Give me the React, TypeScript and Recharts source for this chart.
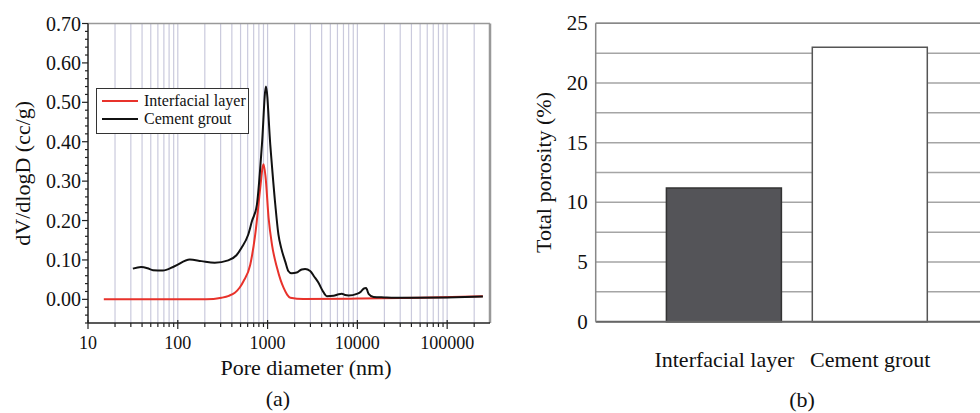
import React from 'react'
import { LineChart, Line, BarChart, Bar, Cell, XAxis, YAxis, CartesianGrid, ReferenceLine, Legend, Label } from 'recharts'

const FONT = 'Liberation Serif, serif'
const txt = { fontFamily: FONT, fill: '#111' }

// (a) pore size distribution, pore diameter in nm vs dV/dlogD in cc/g
const interfacialDiam = [15, 50, 100, 200, 250, 306, 370, 432, 490, 539, 641, 728, 828, 880, 902, 950, 1026, 1119, 1274, 1400, 1510, 1650, 1794, 2500, 10000, 50000, 250000]
const interfacialVal = [0, 0, 0, 0.0005, 0.001, 0.004, 0.009, 0.017, 0.03, 0.046, 0.088, 0.164, 0.282, 0.335, 0.343, 0.31, 0.207, 0.139, 0.08, 0.048, 0.029, 0.012, 0.004, 0.001, 0.002, 0.004, 0.008]

const cementDiam = [31.6, 39, 46, 53, 68, 92, 136, 183, 258, 364, 450, 513, 608, 669, 760, 865, 959, 1072, 1219, 1320, 1420, 1577, 1700, 1855, 2110, 2400, 2618, 2980, 3300, 3690, 4100, 4575, 5425, 6200, 6720, 7300, 7980, 9880, 11000, 11740, 12500, 13340, 15150, 20000, 31400, 100000, 250000]
const cementVal = [0.078, 0.082, 0.079, 0.074, 0.073, 0.084, 0.101, 0.097, 0.093, 0.099, 0.112, 0.131, 0.164, 0.198, 0.24, 0.392, 0.54, 0.392, 0.24, 0.165, 0.13, 0.095, 0.072, 0.066, 0.068, 0.076, 0.077, 0.072, 0.058, 0.042, 0.022, 0.008, 0.009, 0.013, 0.014, 0.011, 0.01, 0.014, 0.02, 0.027, 0.029, 0.014, 0.006, 0.005, 0.004, 0.005, 0.007]

const majorX = [10, 100, 1000, 10000, 100000]
const xTicks = [10, 20, 30, 40, 50, 60, 70, 80, 90, 100, 200, 300, 400, 500, 600, 700, 800, 900, 1000, 2000, 3000, 4000, 5000, 6000, 7000, 8000, 9000, 10000, 20000, 30000, 40000, 50000, 60000, 70000, 80000, 90000, 100000, 200000]
const gridX = xTicks.slice(1)
const yTicksA = [-0.06, -0.04, -0.02, 0, 0.02, 0.04, 0.06, 0.08, 0.1, 0.12, 0.14, 0.16, 0.18, 0.2, 0.22, 0.24, 0.26, 0.28, 0.3, 0.32, 0.34, 0.36, 0.38, 0.4, 0.42, 0.44, 0.46, 0.48, 0.5, 0.52, 0.54, 0.56, 0.58, 0.6, 0.62, 0.64, 0.66, 0.68, 0.7]

// (b) total porosity
const categories = ['Interfacial layer', 'Cement grout']
const porosity = [11.2, 23.0]
const yTicksB = [0, 2.5, 5, 7.5, 10, 12.5, 15, 17.5, 20, 22.5, 25]

const series = [
  { name: 'Interfacial layer', color: '#e8322b', data: interfacialDiam.map((d, i) => ({ d, v: interfacialVal[i] })) },
  { name: 'Cement grout', color: '#111111', data: cementDiam.map((d, i) => ({ d, v: cementVal[i] })) },
]
const barData = categories.map((name, i) => ({ name, value: porosity[i] }))
const barFills = ['#545458', '#ffffff']
const barStrokes = ['#333333', '#555555']

const XTickA = (props: any) => {
  const { x, y, payload } = props
  const major = majorX.includes(payload.value)
  return (
    <g>
      <line x1={x} x2={x} y1={major ? y - 3 : y} y2={y + (major ? 6 : 4)} stroke="#222" strokeWidth={1.2} />
      {major && (
        <text x={x} y={y + 20} textAnchor="middle" dominantBaseline="central" fontSize={18} style={txt}>
          {payload.value}
        </text>
      )}
    </g>
  )
}

const YTickA = (props: any) => {
  const { x, y, payload } = props
  const v = payload.value
  const major = v >= 0 && Math.abs(v * 10 - Math.round(v * 10)) < 1e-6
  return (
    <g>
      <line x1={x} x2={x - (major ? 6 : 3)} y1={y} y2={y} stroke="#222" strokeWidth={1.2} />
      {major && (
        <text x={x - 7} y={y} textAnchor="end" dominantBaseline="central" fontSize={20} style={txt}>
          {v.toFixed(2)}
        </text>
      )}
    </g>
  )
}

const YTickB = (props: any) => {
  const { x, y, payload } = props
  const v = payload.value
  if (v % 5 !== 0) return <g />
  return (
    <text x={x - 8} y={y} textAnchor="end" dominantBaseline="central" fontSize={21} style={txt}>
      {v}
    </text>
  )
}

const CatTick = (props: any) => {
  const { x, y, payload } = props
  return (
    <text x={x} y={y + 38} textAnchor="middle" dominantBaseline="central" fontSize={22} style={txt}>
      {payload.value}
    </text>
  )
}

const LegendBox = () => (
  <div style={{ border: '1.5px solid #333', background: '#fff', width: 153, height: 46, boxSizing: 'border-box', fontFamily: FONT, fontSize: 16, color: '#111', padding: '3px 0 0 5px' }}>
    {series.map((s) => (
      <div key={s.name} style={{ display: 'flex', alignItems: 'center', height: 18 }}>
        <span style={{ display: 'inline-block', width: 36, height: 2, background: s.color, marginRight: 6 }} />
        <span>{s.name}</span>
      </div>
    ))}
  </div>
)

const rotatedTitle = (text: string, x: number) => (props: any) => {
  const vb = props.viewBox
  const cy = vb.y + vb.height / 2
  return (
    <text x={x} y={cy} transform={`rotate(-90 ${x} ${cy})`} textAnchor="middle" dominantBaseline="central" fontSize={22} style={txt}>
      {text}
    </text>
  )
}

const App = () => (
  <div style={{ position: 'absolute', left: 0, top: 0, width: 980, height: 413, overflow: 'hidden', background: '#fff', fontFamily: FONT }}>
    <div style={{ position: 'absolute', left: 0, top: 0 }}>
      <LineChart width={500} height={413} margin={{ top: 23.5, right: 10, left: 0, bottom: 40 }} style={{ fontFamily: FONT }}>
        {gridX.map((g) => (
          <ReferenceLine key={g} x={g} stroke="#cacadd" strokeWidth={1.2} />
        ))}
        <ReferenceLine y={0.7} stroke="#999" strokeWidth={1.5} />
        <ReferenceLine x={300000} stroke="#999" strokeWidth={2.5} />
        <XAxis dataKey="d" type="number" scale="log" domain={[10, 300000]} allowDataOverflow ticks={xTicks} interval={0} height={50}
          axisLine={{ stroke: '#222', strokeWidth: 1.5 }} tickLine={false} tickSize={0} tickMargin={0} tick={<XTickA />}>
          <Label content={(p: any) => (
            <text x={p.viewBox.x + p.viewBox.width / 2 + 17} y={p.viewBox.y + 44} textAnchor="middle" dominantBaseline="central" fontSize={22} style={txt}>
              Pore diameter (nm)
            </text>
          )} />
        </XAxis>
        <YAxis type="number" domain={[-0.06, 0.7]} ticks={yTicksA} interval={0} width={88}
          axisLine={{ stroke: '#222', strokeWidth: 1.5 }} tickLine={false} tickSize={0} tickMargin={0} tick={<YTickA />}>
          <Label content={rotatedTitle('dV/dlogD (cc/g)', 22)} />
        </YAxis>
        <Legend content={<LegendBox />} layout="vertical" align="center" verticalAlign="middle" wrapperStyle={{ left: 96, top: 88, width: 153 }} />
        {series.map((s) => (
          <Line key={s.name} data={s.data} dataKey="v" name={s.name} type="monotone" stroke={s.color} strokeWidth={2} dot={false} isAnimationActive={false} />
        ))}
      </LineChart>
    </div>
    <div style={{ position: 'absolute', left: 500, top: 0 }}>
      <BarChart width={520} height={413} data={barData} margin={{ top: 23.3, right: 20, left: 0, bottom: 31.3 }} barSize={115} style={{ fontFamily: FONT }}>
        <CartesianGrid vertical={false} stroke="#a5a5a5" strokeWidth={1.5} />
        <ReferenceLine y={25} stroke="#888" strokeWidth={1.5} />
        <XAxis dataKey="name" padding={{ left: 55.7, right: 56.8 }} height={60} interval={0}
          axisLine={{ stroke: '#666', strokeWidth: 2 }} tickLine={false} tickSize={0} tickMargin={0} tick={<CatTick />} />
        <YAxis type="number" domain={[0, 25]} ticks={yTicksB} interval={0} width={95.7}
          axisLine={{ stroke: '#888', strokeWidth: 1.5 }} tickLine={false} tickSize={0} tickMargin={0} tick={<YTickB />}>
          <Label content={rotatedTitle('Total porosity (%)', 43)} />
        </YAxis>
        <Bar dataKey="value" isAnimationActive={false} strokeWidth={1.5}>
          {barData.map((b, i) => (
            <Cell key={b.name} fill={barFills[i]} stroke={barStrokes[i]} />
          ))}
        </Bar>
      </BarChart>
    </div>
    <div style={{ position: 'absolute', left: 258, top: 386, width: 40, textAlign: 'center', fontSize: 22, color: '#111' }}>(a)</div>
    <div style={{ position: 'absolute', left: 782, top: 387, width: 40, textAlign: 'center', fontSize: 22, color: '#111' }}>(b)</div>
  </div>
)

export default App
